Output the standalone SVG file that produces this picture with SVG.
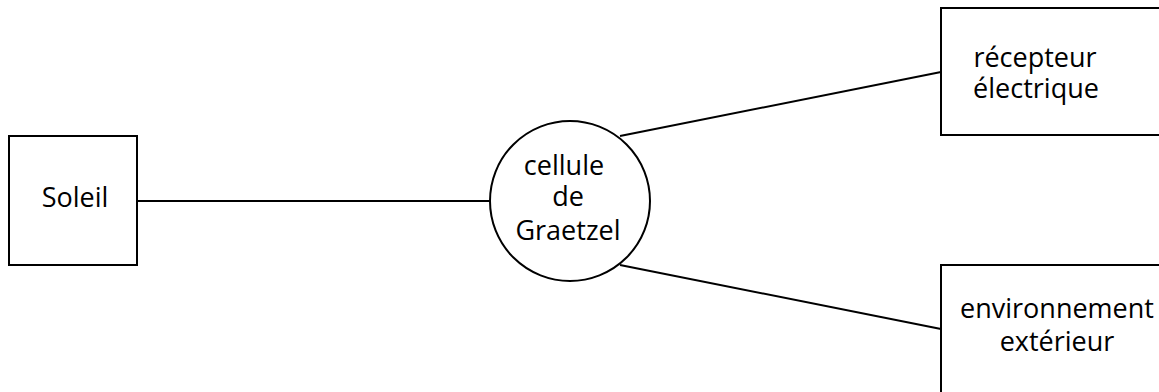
<svg xmlns="http://www.w3.org/2000/svg" width="1159" height="392" viewBox="0 0 1159 392">
  <style>
    .shape { fill: #ffffff; stroke: #000000; stroke-width: 2; }
    .link { stroke: #000000; stroke-width: 2; fill: none; }
    .label { font-family: "Open Sans", "Noto Sans", sans-serif; font-size: 27px; fill: #000000; text-anchor: middle; }
  </style>
  <rect width="1159" height="392" fill="#ffffff"/>
  <g id="connectors">
    <line class="link" x1="137" y1="201" x2="490" y2="201"/>
    <line class="link" x1="620" y1="136" x2="941" y2="72"/>
    <line class="link" x1="620" y1="265" x2="941" y2="329"/>
  </g>
  <g id="soleil">
    <rect class="shape" x="9" y="136" width="128" height="129"/>
    <text class="label" x="75" y="207">Soleil</text>
  </g>
  <g id="cellule">
    <circle class="shape" cx="570" cy="201" r="80"/>
    <text class="label" x="564" y="175">cellule</text>
    <text class="label" x="568" y="206">de</text>
    <text class="label" x="568" y="240">Graetzel</text>
  </g>
  <g id="recepteur">
    <rect class="shape" x="941" y="8" width="240" height="127"/>
    <text class="label" x="1035" y="67">récepteur</text>
    <text class="label" x="1036" y="98">électrique</text>
  </g>
  <g id="environnement">
    <rect class="shape" x="941" y="265" width="240" height="140"/>
    <text class="label" x="1057" y="318">environnement</text>
    <text class="label" x="1057" y="351">extérieur</text>
  </g>
</svg>
